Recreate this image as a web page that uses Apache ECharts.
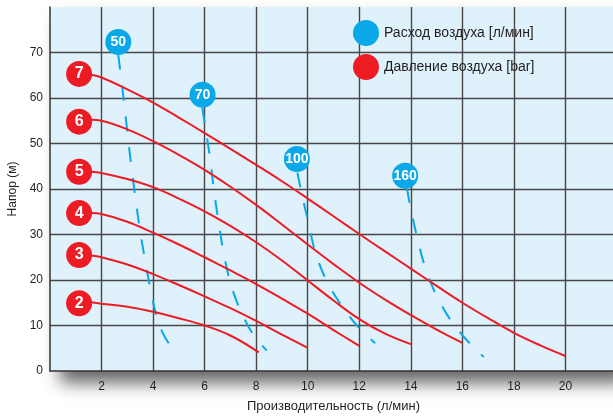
<!DOCTYPE html>
<html><head><meta charset="utf-8">
<script src="https://cdn.jsdelivr.net/npm/echarts@6/dist/echarts.min.js"></script>
<style>html,body{margin:0;padding:0;background:#fff}#c{width:613px;height:417px}</style>
</head><body><div id="c"></div>
<script>
// ---- data ----
const xTickLabels = [2, 4, 6, 8, 10, 12, 14, 16, 18, 20];
const yTickLabels = [0, 10, 20, 30, 40, 50, 60, 70];

const pressureLabels = ['2', '3', '4', '5', '6', '7'];
const pressureMarkers = [[1.13, 14.9], [1.13, 25.5], [1.13, 34.7], [1.13, 43.8], [1.13, 54.8], [1.13, 65.3]];
const bar2 = [[1.6, 15.1], [2, 14.8], [3, 14.1], [4, 13.0], [5, 11.6], [6, 10.0], [7, 7.8], [8.1, 4.1]];
const bar3 = [[1.6, 25.4], [2, 25.0], [3, 23.4], [4, 21.3], [5, 18.9], [6, 16.4], [7, 13.8], [8, 11.0], [9, 8.0], [10, 5.1]];
const bar4 = [[1.6, 34.7], [2, 34.5], [3, 32.8], [4, 30.4], [5, 27.8], [6, 25.0], [7, 22.1], [8, 19.1], [9, 15.9], [10, 12.6], [11, 9.0], [12, 5.5]];
const bar5 = [[1.6, 43.8], [2, 43.5], [3, 42.2], [4, 40.4], [5, 37.9], [6, 35.1], [7, 31.9], [8, 28.3], [9, 24.3], [10, 19.9], [11, 15.5], [12, 11.4], [13, 8.2], [14.05, 5.8]];
const bar6 = [[1.6, 55.2], [2, 55.0], [3, 53.1], [4, 50.5], [5, 47.5], [6, 44.2], [7, 40.5], [8, 36.5], [9, 32.2], [10, 27.8], [11, 23.5], [12, 19.4], [13, 15.7], [14, 12.3], [15, 9.1], [16, 6.2]];
const bar7 = [[1.6, 65.1], [2, 64.5], [3, 61.9], [4, 59.0], [5, 55.7], [6, 52.3], [7, 48.8], [8, 45.3], [9, 41.7], [10, 37.9], [11, 34.0], [12, 30.1], [13, 26.3], [14, 22.5], [15, 18.7], [16, 15.0], [17, 11.6], [18, 8.4], [19, 5.7], [20, 3.3]];

const flowLabels = ['50', '70', '100', '160'];
const flowMarkers = [[2.65, 72.3], [5.92, 60.7], [9.58, 46.6], [13.78, 42.9]];
const flow50 = [[2.65, 69.5], [2.87, 59.2], [3.14, 45.7], [3.46, 32.1], [3.66, 25.3], [3.88, 18.5], [4.14, 11.9], [4.37, 8.4], [4.65, 5.7]];
const flow70 = [[5.91, 57.8], [6.21, 46.8], [6.36, 39.8], [6.56, 32.1], [6.79, 24.4], [7.11, 17.4], [7.63, 10.5], [8.0, 7.2], [8.41, 4.5]];
const flow100 = [[9.6, 43.6], [9.73, 40.0], [10.03, 32.5], [10.35, 25.1], [10.9, 18.1], [11.65, 11.8], [12.14, 8.6], [12.62, 6.1]];
const flow160 = [[13.85, 40.2], [13.95, 37.0], [14.24, 29.5], [14.6, 22.1], [15.14, 15.0], [15.89, 8.6], [16.83, 3.1]];

const legendFlow = 'Расход воздуха [л/мин]';
const legendPressure = 'Давление воздуха [bar]';

// ---- styles ----
const RED = '#ed1c24';
const BLUE = '#0aa8e8';
const FONT = "'Liberation Sans', Arial, sans-serif";
const TXT = '#231f20';

const redLine = d => ({
  type: 'line', data: d, showSymbol: false, smooth: 0.4, z: 3,
  lineStyle: { color: RED, width: 2 }, silent: true
});
const blueLine = d => ({
  type: 'line', data: d, showSymbol: false, smooth: 0.4, z: 2,
  lineStyle: { color: BLUE, width: 2, type: [15, 16] }, silent: true
});

const chart = echarts.init(document.getElementById('c'));
chart.setOption({
  animation: false,
  backgroundColor: '#ffffff',
  textStyle: { fontFamily: FONT },
  grid: {
    left: 50, top: 7, width: 567, height: 364,
    outerBoundsMode: 'none', containLabel: false,
    show: true, backgroundColor: '#dff1fb', borderWidth: 0,
    shadowColor: 'rgba(0,0,0,0.6)', shadowBlur: 16, shadowOffsetX: 10, shadowOffsetY: 12
  },
  legend: {
    data: [legendFlow, legendPressure],
    orient: 'vertical', left: 353, top: 20, padding: 0, icon: 'circle',
    itemWidth: 26, itemHeight: 26, itemGap: 8,
    textStyle: { fontSize: 14, color: TXT, fontFamily: FONT }
  },
  xAxis: {
    type: 'value', min: 0, max: 22, interval: 2,
    name: 'Производительность (л/мин)', nameLocation: 'middle', nameGap: 29,
    nameTextStyle: { fontSize: 13, color: TXT, fontFamily: FONT },
    axisLine: { lineStyle: { color: '#333', width: 1.5 } },
    axisTick: { show: false },
    axisLabel: {
      margin: 10, fontSize: 12, color: TXT, fontFamily: FONT,
      formatter: v => (xTickLabels.indexOf(v) >= 0 ? String(v) : '')
    },
    splitLine: { show: true, showMinLine: false, lineStyle: { color: '#474747', width: 1.4 } }
  },
  yAxis: {
    type: 'value', min: 0, max: 80, interval: 10,
    name: 'Напор (м)', nameLocation: 'middle', nameGap: 31,
    nameTextStyle: { fontSize: 12, color: TXT, fontFamily: FONT },
    axisLine: { show: true, lineStyle: { color: '#333', width: 1.5 } },
    axisTick: { show: false },
    axisLabel: {
      margin: 7, fontSize: 12, color: TXT, fontFamily: FONT,
      formatter: v => (yTickLabels.indexOf(v) >= 0 ? String(v) : '')
    },
    splitLine: { show: true, showMinLine: false, showMaxLine: false, lineStyle: { color: '#474747', width: 1.4 } }
  },
  series: [
    redLine(bar2), redLine(bar3), redLine(bar4), redLine(bar5), redLine(bar6), redLine(bar7),
    blueLine(flow50), blueLine(flow70), blueLine(flow100), blueLine(flow160),
    {
      name: legendPressure, type: 'scatter', data: pressureMarkers, symbolSize: 26, z: 5,
      itemStyle: { color: RED, opacity: 1 },
      label: { show: true, position: 'inside', color: '#fff', fontWeight: 'bold', fontSize: 16,
        fontFamily: FONT,
        formatter: p => pressureLabels[p.dataIndex] }
    },
    {
      name: legendFlow, type: 'scatter', data: flowMarkers, symbolSize: 26, z: 5,
      itemStyle: { color: BLUE, opacity: 1 },
      label: { show: true, position: 'inside', color: '#fff', fontWeight: 'bold', fontSize: 14,
        fontFamily: FONT,
        formatter: p => flowLabels[p.dataIndex] }
    }
  ]
});
</script>
</body></html>
